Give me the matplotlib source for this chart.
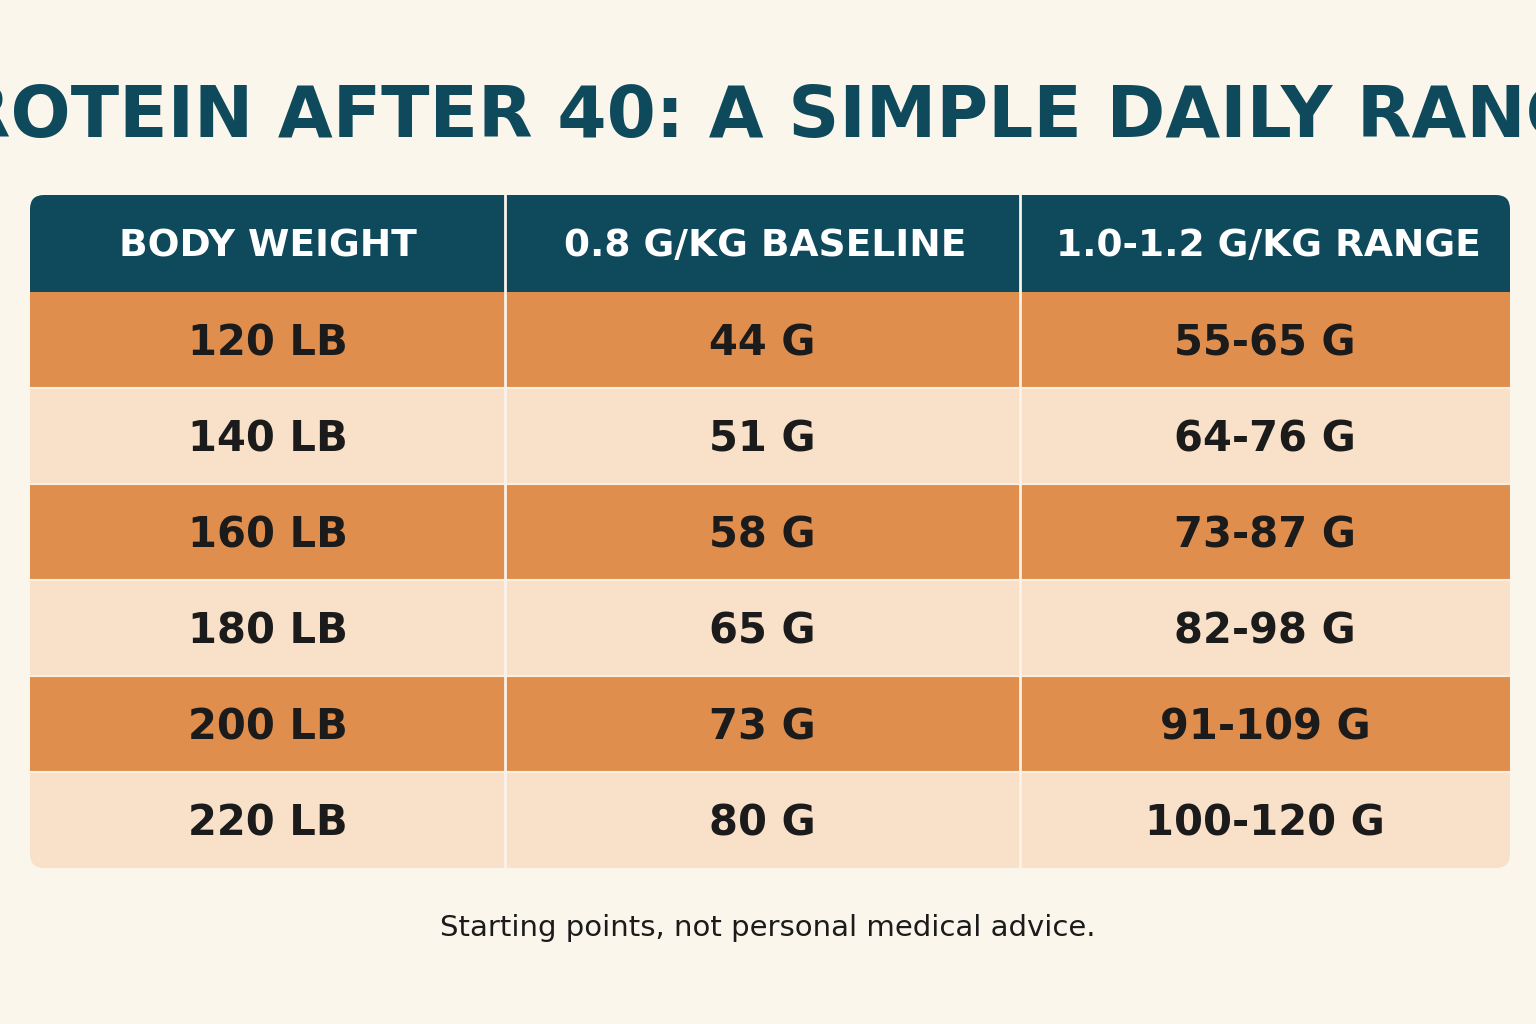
import matplotlib
matplotlib.use("Agg")
import matplotlib.pyplot as plt
from matplotlib.patches import Rectangle, FancyBboxPatch

title = "PROTEIN AFTER 40: A SIMPLE DAILY RANGE"
headers = ["BODY WEIGHT", "0.8 G/KG BASELINE", "1.0-1.2 G/KG RANGE"]
weights = ["120 LB", "140 LB", "160 LB", "180 LB", "200 LB", "220 LB"]
baseline = ["44 G", "51 G", "58 G", "65 G", "73 G", "80 G"]
ranges = ["55-65 G", "64-76 G", "73-87 G", "82-98 G", "91-109 G", "100-120 G"]
footer = "Starting points, not personal medical advice."

BG = "#FBF6EC"; HEAD = "#0F4A5C"; DARK = "#E08E4E"; LIGHT = "#F9E0C8"; TXT = "#1B1B1B"

fig = plt.figure(figsize=(15.36, 10.24), dpi=100, facecolor=BG)
ax = fig.add_axes([0, 0, 1, 1])
ax.set_xlim(0, 1536); ax.set_ylim(1024, 0); ax.axis("off")

ax.text(768, 118, title, ha="center", va="center", fontsize=51, fontweight="bold",
        color=HEAD, family="DejaVu Sans")

x0, x1 = 30, 1510
cols = [30, 505, 1020, 1510]
top, head_h = 195, 97
row_h = (868 - 292) / len(weights)
clip = FancyBboxPatch((x0, top), x1 - x0, 868 - top, boxstyle="round,pad=0,rounding_size=14",
                      facecolor="none", edgecolor="none", transform=ax.transData)
ax.add_patch(clip)

patches = []
patches.append(ax.add_patch(Rectangle((x0, top), x1 - x0, head_h, facecolor=HEAD, edgecolor="none")))
for i in range(len(weights)):
    y = top + head_h + i * row_h
    patches.append(ax.add_patch(Rectangle((x0, y), x1 - x0, row_h,
                                          facecolor=DARK if i % 2 == 0 else LIGHT, edgecolor="none")))
    if i > 0:
        ax.plot([x0, x1], [y, y], color="#FBEFE2", lw=1.5)
for p in patches:
    p.set_clip_path(clip)
for cx in cols[1:-1]:
    ax.plot([cx, cx], [top, 868], color="#FBF3EA", lw=2)

centers = [(cols[j] + cols[j + 1]) / 2 for j in range(3)]
for j, h in enumerate(headers):
    ax.text(centers[j] + (3 if j else 0), top + head_h / 2 + 3, h, ha="center", va="center", fontsize=27,
            fontweight="bold", color="white", family="DejaVu Sans")
for i, row in enumerate(zip(weights, baseline, ranges)):
    y = top + head_h + (i + 0.5) * row_h
    for j, v in enumerate(row):
        ax.text(centers[j], y + 3, v, ha="center", va="center", fontsize=30,
                fontweight="bold", color=TXT, family="DejaVu Sans")

ax.text(768, 928, footer, ha="center", va="center", fontsize=21, color=TXT, family="DejaVu Sans")
fig.savefig("out.png", dpi=100, facecolor=BG)
